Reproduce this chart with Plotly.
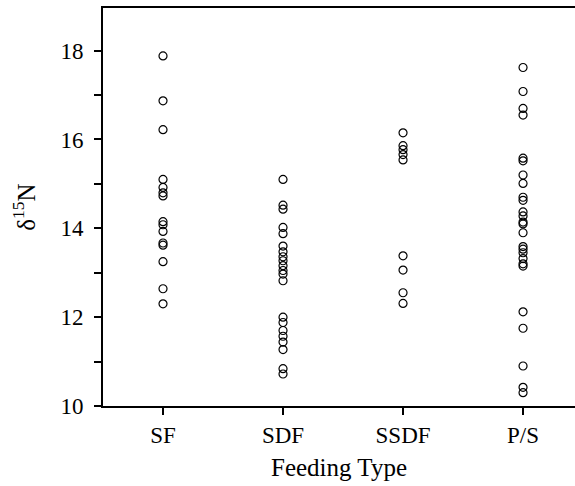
import plotly.graph_objects as go

categories = ["SF", "SDF", "SSDF", "P/S"]
sf = [17.88, 16.87, 16.22, 15.1, 14.92, 14.8, 14.73, 14.15, 14.08, 13.93, 13.67, 13.62, 13.25, 12.64, 12.3]
sdf = [15.1, 14.52, 14.43, 14.02, 13.88, 13.6, 13.47, 13.36, 13.27, 13.16, 13.05, 12.97, 12.82, 12.0, 11.88, 11.7, 11.57, 11.44, 11.27, 10.84, 10.72]
ssdf = [16.15, 15.86, 15.77, 15.66, 15.54, 13.38, 13.06, 12.55, 12.31]
ps = [17.62, 17.08, 16.7, 16.55, 15.58, 15.52, 15.2, 15.01, 14.7, 14.63, 14.37, 14.28, 14.14, 14.1, 13.9, 13.59, 13.53, 13.45, 13.32, 13.2, 13.15, 12.12, 11.75, 10.9, 10.42, 10.3]
series = [sf, sdf, ssdf, ps]
y_ticks = [10, 12, 14, 16, 18]

xs, ys = [], []
for i, vals in enumerate(series):
    xs += [i + 1] * len(vals)
    ys += vals

fig = go.Figure(go.Scatter(
    x=xs, y=ys, mode="markers",
    marker=dict(symbol="circle-open", size=8, color="black", line=dict(width=1.2, color="black")),
    showlegend=False, hoverinfo="y",
))

font = "Liberation Serif, Times New Roman, serif"
fig.update_layout(
    width=575, height=486,
    margin=dict(l=103, r=0, t=8, b=80),
    paper_bgcolor="white", plot_bgcolor="white",
    font=dict(family=font, color="black", size=23),
    xaxis=dict(
        range=[0.5, 4.433], tickvals=[1, 2, 3, 4], ticktext=categories,
        showline=True, linecolor="black", linewidth=2, mirror=True,
        ticks="outside", ticklen=7, tickwidth=2, tickcolor="black",
        showgrid=False, zeroline=False,
        title=dict(text="Feeding Type", font=dict(size=25), standoff=12),
        tickfont=dict(size=23),
    ),
    yaxis=dict(
        range=[10, 18.96], tickvals=y_ticks,
        showline=True, linecolor="black", linewidth=2, mirror=False,
        ticks="outside", ticklen=7, tickwidth=2, tickcolor="black",
        minor=dict(tickvals=[11, 13, 15, 17], ticks="outside", ticklen=7, tickwidth=2, tickcolor="black", showgrid=False),
        showgrid=False, zeroline=False, ticklabelstandoff=6,
        title=dict(text="δ<sup>15</sup>N", font=dict(size=25), standoff=18),
        tickfont=dict(size=23),
    ),
)

fig.write_html(
    "out.html",
    config={"displayModeBar": False},
    post_script=(
        "document.body.style.margin='0';document.body.style.overflow='hidden';"
        "document.documentElement.style.overflow='hidden';"
    ),
)
